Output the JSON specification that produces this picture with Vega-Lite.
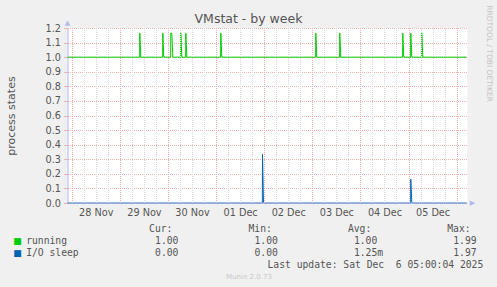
{
  "$schema": "https://vega.github.io/schema/vega-lite/v6.json",
  "background": "#f0f0f0",
  "padding": {"left": 4.5, "top": 5, "right": 10, "bottom": 10},
  "title": {"text": "RRDTOOL / TOBI OETIKER", "orient": "right", "anchor": "start", "fontSize": 7.5, "font": "DejaVu Sans", "fontWeight": "normal", "color": "#c4c4c4", "offset": 2, "dx": -8},
  "spacing": 5,
  "datasets": {
    "series": [
      {"t": "2025-11-27T21:40:00Z", "v": 1.0, "s": "running"},
      {"t": "2025-11-29T09:38:00Z", "v": 1.0, "s": "running"},
      {"t": "2025-11-29T09:43:00Z", "v": 1.165, "s": "running"},
      {"t": "2025-11-29T10:13:00Z", "v": 1.0, "s": "running"},
      {"t": "2025-11-29T21:06:00Z", "v": 1.0, "s": "running"},
      {"t": "2025-11-29T21:11:00Z", "v": 1.165, "s": "running"},
      {"t": "2025-11-29T21:41:00Z", "v": 1.0, "s": "running"},
      {"t": "2025-11-30T01:06:00Z", "v": 1.0, "s": "running"},
      {"t": "2025-11-30T01:11:00Z", "v": 1.165, "s": "running"},
      {"t": "2025-11-30T01:41:00Z", "v": 1.165, "s": "running"},
      {"t": "2025-11-30T02:11:00Z", "v": 1.0, "s": "running"},
      {"t": "2025-11-30T06:05:00Z", "v": 1.0, "s": "running"},
      {"t": "2025-11-30T06:10:00Z", "v": 1.165, "s": "running"},
      {"t": "2025-11-30T06:40:00Z", "v": 1.0, "s": "running"},
      {"t": "2025-11-30T08:35:00Z", "v": 1.0, "s": "running"},
      {"t": "2025-11-30T08:40:00Z", "v": 1.165, "s": "running"},
      {"t": "2025-11-30T09:10:00Z", "v": 1.0, "s": "running"},
      {"t": "2025-12-01T02:02:00Z", "v": 1.0, "s": "running"},
      {"t": "2025-12-01T02:07:00Z", "v": 1.165, "s": "running"},
      {"t": "2025-12-01T02:37:00Z", "v": 1.0, "s": "running"},
      {"t": "2025-12-03T01:25:00Z", "v": 1.0, "s": "running"},
      {"t": "2025-12-03T01:30:00Z", "v": 1.165, "s": "running"},
      {"t": "2025-12-03T02:00:00Z", "v": 1.0, "s": "running"},
      {"t": "2025-12-03T13:23:00Z", "v": 1.0, "s": "running"},
      {"t": "2025-12-03T13:28:00Z", "v": 1.165, "s": "running"},
      {"t": "2025-12-03T13:58:00Z", "v": 1.0, "s": "running"},
      {"t": "2025-12-04T20:48:00Z", "v": 1.0, "s": "running"},
      {"t": "2025-12-04T20:53:00Z", "v": 1.165, "s": "running"},
      {"t": "2025-12-04T21:23:00Z", "v": 1.0, "s": "running"},
      {"t": "2025-12-05T00:48:00Z", "v": 1.0, "s": "running"},
      {"t": "2025-12-05T00:53:00Z", "v": 1.165, "s": "running"},
      {"t": "2025-12-05T01:23:00Z", "v": 1.0, "s": "running"},
      {"t": "2025-12-05T06:17:00Z", "v": 1.0, "s": "running"},
      {"t": "2025-12-05T06:22:00Z", "v": 1.165, "s": "running"},
      {"t": "2025-12-05T06:52:00Z", "v": 1.0, "s": "running"},
      {"t": "2025-12-06T04:40:00Z", "v": 1.0, "s": "running"},
      {"t": "2025-11-27T21:40:00Z", "v": 0, "s": "I/O sleep"},
      {"t": "2025-12-01T22:50:00Z", "v": 0, "s": "I/O sleep"},
      {"t": "2025-12-01T22:55:00Z", "v": 0.336, "s": "I/O sleep"},
      {"t": "2025-12-01T23:25:00Z", "v": 0, "s": "I/O sleep"},
      {"t": "2025-12-05T00:48:00Z", "v": 0, "s": "I/O sleep"},
      {"t": "2025-12-05T00:53:00Z", "v": 0.163, "s": "I/O sleep"},
      {"t": "2025-12-05T01:23:00Z", "v": 0, "s": "I/O sleep"},
      {"t": "2025-12-06T04:40:00Z", "v": 0, "s": "I/O sleep"}
    ],
    "table": [
      {"c": "Cur", "r": "running", "txt": "running", "s": "running", "kind": "label"},
      {"c": "Cur", "r": "io", "txt": "I/O sleep", "s": "I/O sleep", "kind": "label"},
      {"c": "Cur", "r": "header", "txt": "Cur:", "kind": "header"},
      {"c": "Min", "r": "header", "txt": "Min:", "kind": "header"},
      {"c": "Avg", "r": "header", "txt": "Avg:", "kind": "header"},
      {"c": "Max", "r": "header", "txt": "Max:", "kind": "header"},
      {"c": "Cur", "r": "running", "txt": "1.00", "kind": "value"},
      {"c": "Min", "r": "running", "txt": "1.00", "kind": "value"},
      {"c": "Avg", "r": "running", "txt": "1.00", "kind": "value"},
      {"c": "Max", "r": "running", "txt": "1.99", "kind": "value"},
      {"c": "Cur", "r": "io", "txt": "0.00", "kind": "value"},
      {"c": "Min", "r": "io", "txt": "0.00", "kind": "value"},
      {"c": "Avg", "r": "io", "txt": "1.25m", "kind": "value"},
      {"c": "Max", "r": "io", "txt": "1.97", "kind": "value"},
      {"c": "Max", "r": "update", "txt": "Last update: Sat Dec \u00a06 05:00:04 2025", "kind": "update"},
      {"c": "Min", "r": "footer", "txt": "Munin 2.0.73", "kind": "footer"}
    ]
  },
  "vconcat": [
    {
      "width": 400,
      "height": 175,
      "view": {"fill": "white", "stroke": null},
      "title": {"text": "VMstat - by week", "anchor": "middle", "frame": "group", "dx": -19, "fontSize": 12.5, "font": "DejaVu Sans", "color": "#555555", "fontWeight": "normal", "offset": -6.8},
      "resolve": {"axis": {"x": "independent", "y": "independent"}},
      "layer": [
        {
          "data": {"name": "series"},
          "mark": {"type": "line", "strokeWidth": 1, "interpolate": "linear"},
          "encoding": {
            "x": {
              "field": "t", "type": "temporal",
              "scale": {"type": "utc", "nice": false, "domain": [1764279540000, 1764997800000]},
              "axis": {
                "title": null,
                "values": [1764288000000, 1764309600000, 1764331200000, 1764352800000, 1764374400000, 1764396000000, 1764417600000, 1764439200000, 1764460800000, 1764482400000, 1764504000000, 1764525600000, 1764547200000, 1764568800000, 1764590400000, 1764612000000, 1764633600000, 1764655200000, 1764676800000, 1764698400000, 1764720000000, 1764741600000, 1764763200000, 1764784800000, 1764806400000, 1764828000000, 1764849600000, 1764871200000, 1764892800000, 1764914400000, 1764936000000, 1764957600000, 1764979200000],
                "labelExpr": "datum.value % 86400000 == 43200000 ? utcFormat(datum.value, '%d %b') : ''",
                "grid": true,
                "gridColor": {"condition": {"test": "datum.value % 86400000 == 0", "value": "#f0b0b0"}, "value": "#d6d6d6"},
                "gridDash": [1, 1],
                "ticks": false,
                "domain": true,
                "domainColor": "#aeb9ec",
                "translate": 0,
                "zindex": 1,
                "labelFontSize": 9.7,
                "labelColor": "#555555",
                "labelPadding": 5,
                "labelOverlap": false,
                "labelFlush": false
              }
            },
            "y": {
              "field": "v", "type": "quantitative",
              "scale": {"domain": [0, 1.2], "nice": false, "zero": false},
              "axis": {
                "values": [0, 0.1, 0.2, 0.3, 0.4, 0.5, 0.6, 0.7, 0.8, 0.9, 1.0, 1.1, 1.2],
                "format": ".1f",
                "title": "process states",
                "titleFontSize": 11,
                "titleColor": "#555555",
                "titleFontWeight": "normal",
                "titlePadding": 29,
                "labelFontSize": 9.7,
                "labelColor": "#555555",
                "labelPadding": 3,
                "tickSize": 4,
                "tickColor": "#f0b0b0",
                "gridColor": "#f0b0b0",
                "gridDash": [1, 1],
                "domainColor": "#aeb9ec",
                "labelFlush": false,
                "labelOverlap": false
              }
            },
            "color": {"field": "s", "type": "nominal", "scale": {"domain": ["running", "I/O sleep"], "range": ["#00cc00", "#0066b3"]}, "legend": null}
          }
        },
        {
          "data": {"values": [{"arrow": "x"}]},
          "mark": {"type": "text", "text": "▶", "fontSize": 7, "color": "#aeb9ec", "dx": 5},
          "encoding": {
            "x": {"datum": 1764997800000, "type": "temporal", "axis": null},
            "y": {"datum": 0, "type": "quantitative", "axis": null}
          }
        },
        {
          "data": {"values": [{"arrow": "y"}]},
          "mark": {"type": "text", "text": "▲", "fontSize": 7, "color": "#aeb9ec", "dy": -5},
          "encoding": {
            "x": {"datum": 1764279540000, "type": "temporal", "axis": null},
            "y": {"datum": 1.2, "type": "quantitative", "axis": null}
          }
        }
      ]
    },
    {
      "width": 415.3,
      "height": 60,
      "data": {"name": "table"},
      "encoding": {
        "x": {"field": "c", "type": "nominal", "scale": {"type": "point", "domain": ["Cur", "Min", "Avg", "Max"], "padding": 0.589, "align": 0.701}, "axis": null},
        "y": {"field": "r", "type": "nominal", "scale": {"type": "point", "domain": ["header", "running", "io", "update", "footer"], "padding": 0.5}, "axis": null}
      },
      "layer": [
        {
          "transform": [{"filter": "datum.kind == 'label'"}],
          "mark": {"type": "text", "text": "■", "align": "center", "dx": -132.1, "font": "DejaVu Sans", "fontSize": 9},
          "encoding": {
            "color": {"field": "s", "type": "nominal", "scale": {"domain": ["running", "I/O sleep"], "range": ["#00cc00", "#0066b3"]}, "legend": null}
          }
        },
        {
          "transform": [{"filter": "datum.kind == 'label'"}],
          "mark": {"type": "text", "align": "left", "dx": -123.4, "font": "DejaVu Sans Mono", "fontSize": 9.7, "color": "#555555"},
          "encoding": {"text": {"field": "txt"}}
        },
        {
          "transform": [{"filter": "datum.kind == 'header'"}],
          "mark": {"type": "text", "align": "left", "dx": -0.5, "font": "DejaVu Sans Mono", "fontSize": 9.7, "color": "#555555"},
          "encoding": {"text": {"field": "txt"}}
        },
        {
          "transform": [{"filter": "datum.kind == 'value'"}],
          "mark": {"type": "text", "align": "left", "dx": 5.5, "font": "DejaVu Sans Mono", "fontSize": 9.7, "color": "#555555"},
          "encoding": {"text": {"field": "txt"}}
        },
        {
          "transform": [{"filter": "datum.kind == 'update'"}],
          "mark": {"type": "text", "align": "right", "dx": 35.5, "font": "DejaVu Sans Mono", "fontSize": 9.7, "color": "#555555"},
          "encoding": {"text": {"field": "txt"}}
        },
        {
          "transform": [{"filter": "datum.kind == 'footer'"}],
          "mark": {"type": "text", "align": "center", "font": "DejaVu Sans", "fontSize": 7, "color": "#c8c8c8"},
          "encoding": {"text": {"field": "txt"}}
        }
      ]
    }
  ],
  "config": {"view": {"stroke": null}, "font": "DejaVu Sans"}
}
